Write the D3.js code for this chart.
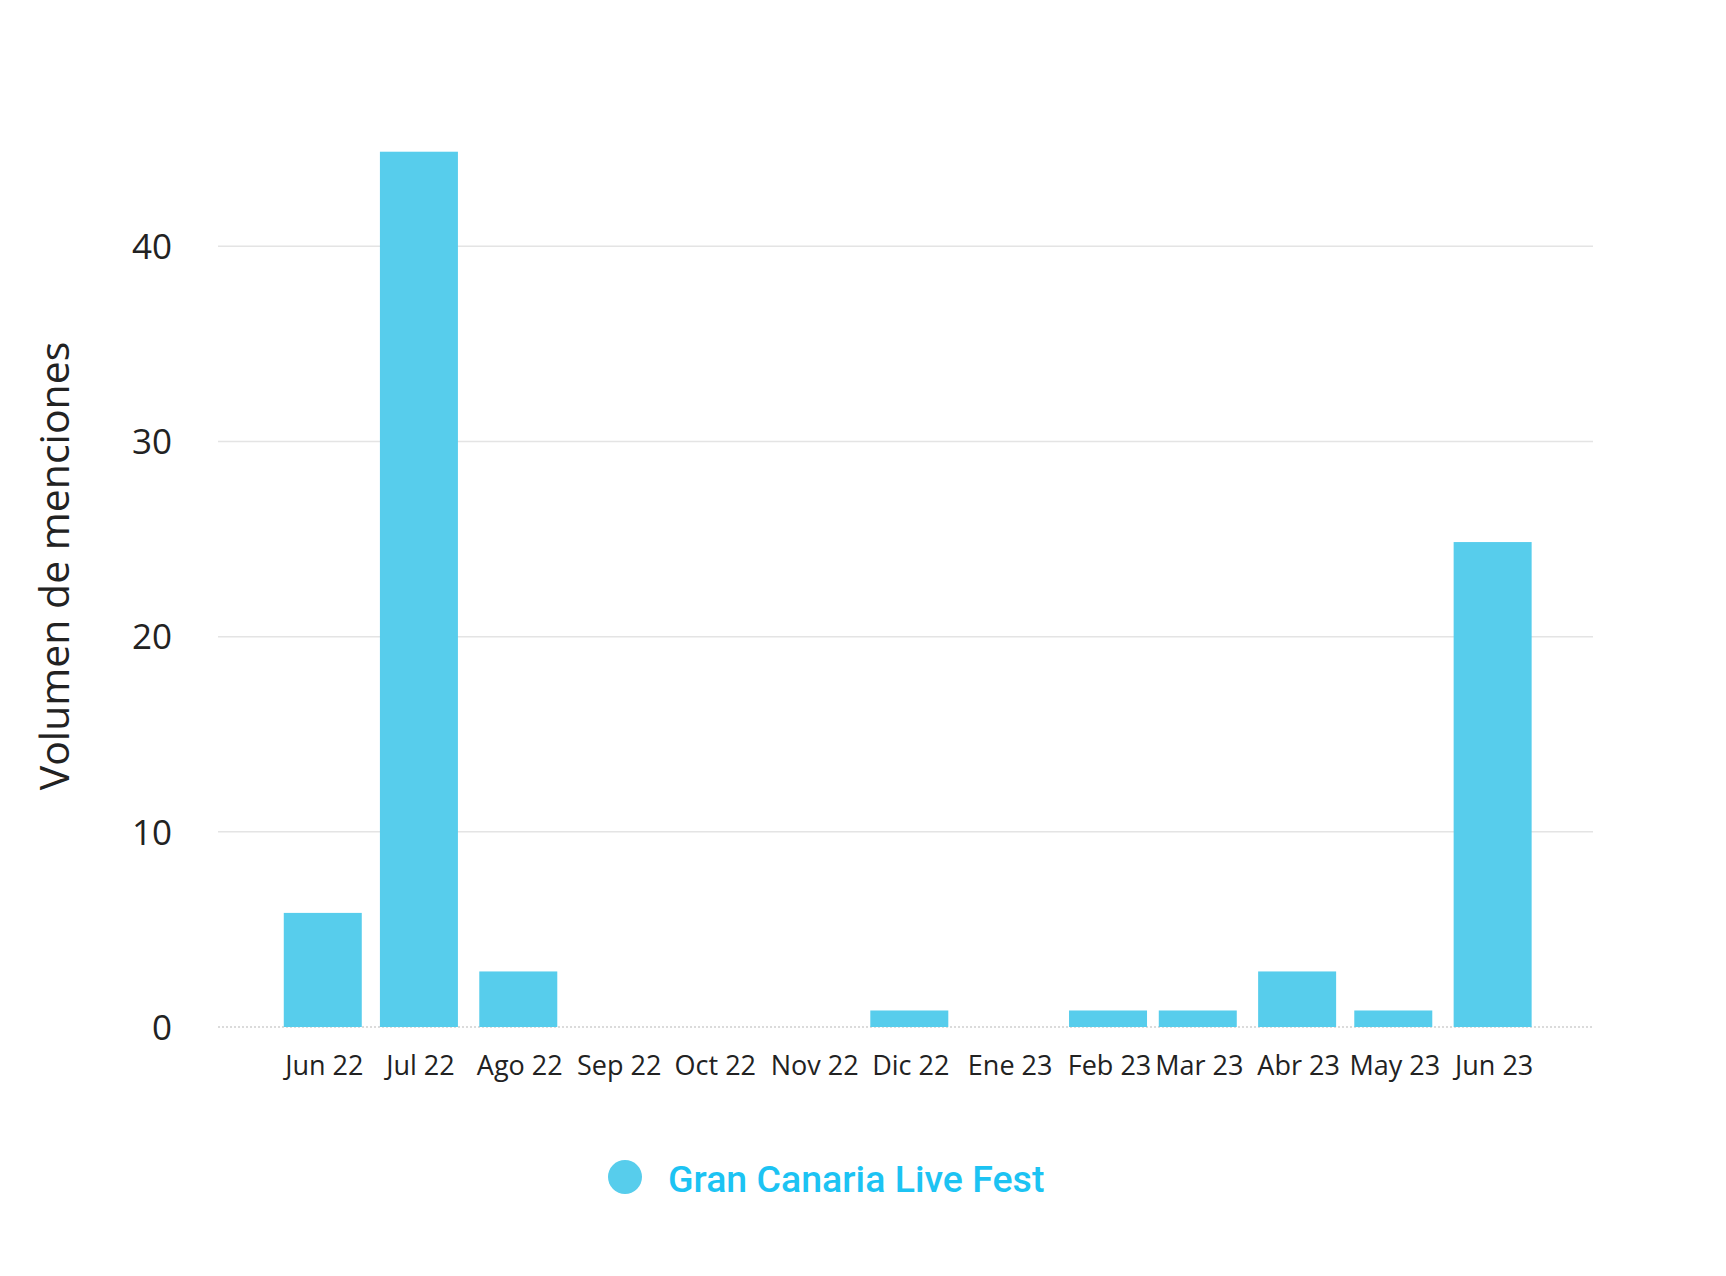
<!DOCTYPE html>
<html>
<head>
<meta charset="utf-8">
<script src="https://cdn.jsdelivr.net/npm/d3@7"></script>
<style>
  html, body { margin: 0; padding: 0; background: #ffffff; }
  svg { display: block; }
</style>
</head>
<body>
<svg id="chart" width="1726" height="1276"></svg>
<script>
// ---- Data ----
const months = ["2022-06","2022-07","2022-08","2022-09","2022-10","2022-11","2022-12","2023-01","2023-02","2023-03","2023-04","2023-05","2023-06"];
const monthLabels = ["Jun 22","Jul 22","Ago 22","Sep 22","Oct 22","Nov 22","Dic 22","Ene 23","Feb 23","Mar 23","Abr 23","May 23","Jun 23"];
const mentions = [6, 45, 3, 0, 0, 0, 1, 0, 1, 1, 3, 1, 25];
const yTicks = [0, 10, 20, 30, 40];
const seriesName = "Gran Canaria Live Fest";
const yTitle = "Volumen de menciones";

// ---- Layout ----
const svg = d3.select("#chart");
const parse = d3.timeParse("%Y-%m");
const dates = months.map(parse);
const plotLeft = 218, plotRight = 1593, plotBottom = 1027, y40 = 246.3;
const barColor = "#57cdec";
const fontAxis = "'Open Sans', 'Noto Sans', sans-serif";

const x = d3.scaleTime()
  .domain([new Date(2022, 3, 29), new Date(2023, 6, 2)])
  .range([plotLeft, plotRight]);
const y = d3.scaleLinear()
  .domain([0, 40])
  .range([plotBottom, y40]);

const barWidth = 78;

// Gridlines
const grid = svg.append("g");
grid.selectAll("line.grid")
  .data(yTicks.filter(d => d > 0))
  .join("line")
  .attr("x1", plotLeft).attr("x2", plotRight)
  .attr("y1", d => y(d)).attr("y2", d => y(d))
  .attr("stroke", "#e4e4e4").attr("stroke-width", 1.5);
grid.append("line")
  .attr("x1", plotLeft).attr("x2", plotRight)
  .attr("y1", y(0)).attr("y2", y(0))
  .attr("stroke", "#b8b8b8").attr("stroke-width", 1.2)
  .attr("stroke-dasharray", "2,2");

// Y axis labels
const yAxis = d3.axisLeft(y).tickValues(yTicks).tickSize(0).tickPadding(0);
const yg = svg.append("g").attr("transform", `translate(172,0)`).call(yAxis);
yg.select(".domain").remove();
yg.selectAll("text")
  .attr("font-family", fontAxis)
  .attr("font-size", 35)
  .attr("fill", "#222")
  .attr("dy", "0.35em");

// Bars
svg.append("g").selectAll("rect")
  .data(mentions.map((v, i) => ({ v, d: dates[i] })))
  .join("rect")
  .attr("x", d => x(d.d) - barWidth / 2 - 1)
  .attr("width", barWidth)
  .attr("y", d => y(d.v) + 3)
  .attr("height", d => Math.max(0, y(0) - y(d.v) - 3))
  .attr("fill", barColor);

// X axis labels
const xAxis = d3.axisBottom(x).tickValues(dates).tickFormat((d, i) => monthLabels[i]).tickSize(0).tickPadding(0);
const xg = svg.append("g").attr("transform", `translate(0,1075)`).call(xAxis);
xg.select(".domain").remove();
xg.selectAll("text")
  .attr("font-family", fontAxis)
  .attr("font-size", 27)
  .attr("fill", "#222")
  .attr("dy", 0);

// Y title
svg.append("text")
  .attr("transform", `translate(53,566) rotate(-90)`)
  .attr("text-anchor", "middle")
  .attr("dominant-baseline", "central")
  .attr("font-family", fontAxis)
  .attr("font-size", 41)
  .attr("fill", "#222")
  .text(yTitle);

// Legend
const lg = svg.append("g");
lg.append("circle").attr("cx", 625).attr("cy", 1177).attr("r", 17).attr("fill", barColor);
lg.append("text")
  .attr("x", 668).attr("y", 1179)
  .attr("dominant-baseline", "central")
  .attr("font-family", "Roboto, sans-serif")
  .attr("font-weight", 500)
  .attr("font-size", 37.5)
  .attr("fill", "#1cc3f3")
  .text(seriesName);
</script>
</body>
</html>
